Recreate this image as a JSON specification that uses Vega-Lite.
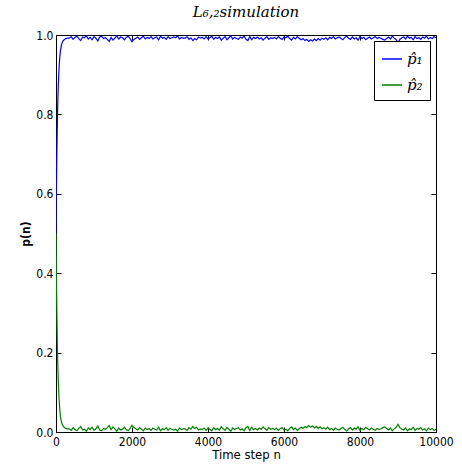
{
  "$schema": "https://vega.github.io/schema/vega-lite/v6.json",
  "autosize": {"type": "none"},
  "padding": {"left": 56, "top": 35, "right": 26, "bottom": 32},
  "width": 380,
  "height": 397,
  "background": "white",
  "title": {"text": "L₆,₂simulation", "font": "DejaVu Serif", "fontStyle": "italic", "fontWeight": "normal", "fontSize": 15, "offset": 9, "color": "black"},
  "config": {
    "view": {"stroke": "black", "strokeWidth": 1},
    "axis": {"grid": false, "labelFlush": false, "domainColor": "black", "tickColor": "black", "labelColor": "black", "titleColor": "black", "labelFont": "DejaVu Sans Condensed", "titleFont": "DejaVu Sans Condensed", "labelFontSize": 12, "titleFontSize": 13}
  },
  "data": {"values": [
    {"n":0,"p1":0.5,"p2":0.5},{"n":10,"p1":0.6,"p2":0.4},{"n":20,"p1":0.68,"p2":0.32},{"n":30,"p1":0.745,"p2":0.255},{"n":40,"p1":0.8,"p2":0.2},{"n":50,"p1":0.84,"p2":0.16},{"n":60,"p1":0.87,"p2":0.13},{"n":70,"p1":0.895,"p2":0.105},{"n":80,"p1":0.915,"p2":0.085},{"n":100,"p1":0.945,"p2":0.055},{"n":120,"p1":0.962,"p2":0.038},{"n":140,"p1":0.973,"p2":0.027},{"n":160,"p1":0.98,"p2":0.02},{"n":180,"p1":0.984,"p2":0.016},{"n":200,"p1":0.987,"p2":0.013},{"n":230,"p1":0.989,"p2":0.011},{"n":260,"p1":0.991,"p2":0.009},{"n":300,"p1":0.992,"p2":0.008},
    {"n":350,"p1":0.992,"p2":0.008},{"n":400,"p1":0.996,"p2":0.004},{"n":450,"p1":0.989,"p2":0.011},{"n":500,"p1":0.994,"p2":0.006},{"n":550,"p1":0.997,"p2":0.003},{"n":600,"p1":0.991,"p2":0.009},{"n":650,"p1":0.986,"p2":0.014},{"n":700,"p1":0.995,"p2":0.005},{"n":750,"p1":0.993,"p2":0.007},{"n":800,"p1":0.998,"p2":0.002},
    {"n":850,"p1":0.99,"p2":0.01},{"n":900,"p1":0.994,"p2":0.006},{"n":950,"p1":0.988,"p2":0.012},{"n":1000,"p1":0.996,"p2":0.004},{"n":1050,"p1":0.992,"p2":0.008},{"n":1100,"p1":0.985,"p2":0.015},{"n":1150,"p1":0.995,"p2":0.005},{"n":1200,"p1":0.997,"p2":0.003},{"n":1250,"p1":0.991,"p2":0.009},{"n":1300,"p1":0.993,"p2":0.007},
    {"n":1350,"p1":0.989,"p2":0.011},{"n":1400,"p1":0.984,"p2":0.016},{"n":1450,"p1":0.994,"p2":0.006},{"n":1500,"p1":0.987,"p2":0.013},{"n":1550,"p1":0.992,"p2":0.008},{"n":1600,"p1":0.998,"p2":0.002},{"n":1650,"p1":0.99,"p2":0.01},{"n":1700,"p1":0.995,"p2":0.005},{"n":1750,"p1":0.993,"p2":0.007},{"n":1800,"p1":0.988,"p2":0.012},
    {"n":1850,"p1":0.994,"p2":0.006},{"n":1900,"p1":0.997,"p2":0.003},{"n":1950,"p1":0.991,"p2":0.009},{"n":2000,"p1":0.983,"p2":0.017},{"n":2050,"p1":0.989,"p2":0.011},{"n":2100,"p1":0.992,"p2":0.008},{"n":2150,"p1":0.995,"p2":0.005},{"n":2200,"p1":0.989,"p2":0.011},{"n":2250,"p1":0.993,"p2":0.007},{"n":2300,"p1":0.997,"p2":0.003},
    {"n":2350,"p1":0.99,"p2":0.01},{"n":2400,"p1":0.994,"p2":0.006},{"n":2450,"p1":0.991,"p2":0.009},{"n":2500,"p1":0.996,"p2":0.004},{"n":2550,"p1":0.99,"p2":0.01},{"n":2600,"p1":0.993,"p2":0.007},{"n":2650,"p1":0.995,"p2":0.005},{"n":2700,"p1":0.988,"p2":0.012},{"n":2750,"p1":0.997,"p2":0.003},{"n":2800,"p1":0.992,"p2":0.008},
    {"n":2850,"p1":0.994,"p2":0.006},{"n":2900,"p1":0.989,"p2":0.011},{"n":2950,"p1":0.996,"p2":0.004},{"n":3000,"p1":0.991,"p2":0.009},{"n":3050,"p1":0.993,"p2":0.007},{"n":3100,"p1":0.995,"p2":0.005},{"n":3150,"p1":0.993,"p2":0.007},{"n":3200,"p1":0.998,"p2":0.002},{"n":3250,"p1":0.99,"p2":0.01},{"n":3300,"p1":0.994,"p2":0.006},
    {"n":3350,"p1":0.992,"p2":0.008},{"n":3400,"p1":0.992,"p2":0.008},{"n":3450,"p1":0.996,"p2":0.004},{"n":3500,"p1":0.989,"p2":0.011},{"n":3550,"p1":0.993,"p2":0.007},{"n":3600,"p1":0.986,"p2":0.014},{"n":3650,"p1":0.991,"p2":0.009},{"n":3700,"p1":0.988,"p2":0.012},{"n":3750,"p1":0.995,"p2":0.005},{"n":3800,"p1":0.992,"p2":0.008},
    {"n":3850,"p1":0.994,"p2":0.006},{"n":3900,"p1":0.99,"p2":0.01},{"n":3950,"p1":0.996,"p2":0.004},{"n":4000,"p1":0.99,"p2":0.01},{"n":4050,"p1":0.993,"p2":0.007},{"n":4100,"p1":0.997,"p2":0.003},{"n":4150,"p1":0.989,"p2":0.011},{"n":4200,"p1":0.994,"p2":0.006},{"n":4250,"p1":0.991,"p2":0.009},{"n":4300,"p1":0.995,"p2":0.005},
    {"n":4350,"p1":0.987,"p2":0.013},{"n":4400,"p1":0.992,"p2":0.008},{"n":4450,"p1":0.996,"p2":0.004},{"n":4500,"p1":0.988,"p2":0.012},{"n":4550,"p1":0.993,"p2":0.007},{"n":4600,"p1":0.998,"p2":0.002},{"n":4650,"p1":0.99,"p2":0.01},{"n":4700,"p1":0.994,"p2":0.006},{"n":4750,"p1":0.991,"p2":0.009},{"n":4800,"p1":0.989,"p2":0.011},
    {"n":4850,"p1":0.995,"p2":0.005},{"n":4900,"p1":0.992,"p2":0.008},{"n":4950,"p1":0.997,"p2":0.003},{"n":5000,"p1":0.989,"p2":0.011},{"n":5050,"p1":0.986,"p2":0.014},{"n":5100,"p1":0.996,"p2":0.004},{"n":5150,"p1":0.988,"p2":0.012},{"n":5200,"p1":0.994,"p2":0.006},{"n":5250,"p1":0.991,"p2":0.009},{"n":5300,"p1":0.995,"p2":0.005},
    {"n":5350,"p1":0.99,"p2":0.01},{"n":5400,"p1":0.993,"p2":0.007},{"n":5450,"p1":0.987,"p2":0.013},{"n":5500,"p1":0.992,"p2":0.008},{"n":5550,"p1":0.996,"p2":0.004},{"n":5600,"p1":0.989,"p2":0.011},{"n":5650,"p1":0.993,"p2":0.007},{"n":5700,"p1":0.991,"p2":0.009},{"n":5750,"p1":0.994,"p2":0.006},{"n":5800,"p1":0.99,"p2":0.01},
    {"n":5850,"p1":0.996,"p2":0.004},{"n":5900,"p1":0.992,"p2":0.008},{"n":5950,"p1":0.989,"p2":0.011},{"n":6000,"p1":0.995,"p2":0.005},{"n":6050,"p1":0.993,"p2":0.007},{"n":6100,"p1":0.997,"p2":0.003},{"n":6150,"p1":0.991,"p2":0.009},{"n":6200,"p1":0.987,"p2":0.013},{"n":6250,"p1":0.994,"p2":0.006},{"n":6300,"p1":0.99,"p2":0.01},
    {"n":6350,"p1":0.996,"p2":0.004},{"n":6400,"p1":0.992,"p2":0.008},{"n":6450,"p1":0.988,"p2":0.012},{"n":6500,"p1":0.991,"p2":0.009},{"n":6550,"p1":0.986,"p2":0.014},{"n":6600,"p1":0.989,"p2":0.011},{"n":6650,"p1":0.984,"p2":0.016},{"n":6700,"p1":0.988,"p2":0.012},{"n":6750,"p1":0.985,"p2":0.015},{"n":6800,"p1":0.99,"p2":0.01},
    {"n":6850,"p1":0.986,"p2":0.014},{"n":6900,"p1":0.991,"p2":0.009},{"n":6950,"p1":0.987,"p2":0.013},{"n":7000,"p1":0.992,"p2":0.008},{"n":7050,"p1":0.989,"p2":0.011},{"n":7100,"p1":0.993,"p2":0.007},{"n":7150,"p1":0.988,"p2":0.012},{"n":7200,"p1":0.994,"p2":0.006},{"n":7250,"p1":0.991,"p2":0.009},{"n":7300,"p1":0.996,"p2":0.004},
    {"n":7350,"p1":0.99,"p2":0.01},{"n":7400,"p1":0.993,"p2":0.007},{"n":7450,"p1":0.995,"p2":0.005},{"n":7500,"p1":0.991,"p2":0.009},{"n":7550,"p1":0.988,"p2":0.012},{"n":7600,"p1":0.994,"p2":0.006},{"n":7650,"p1":0.997,"p2":0.003},{"n":7700,"p1":0.992,"p2":0.008},{"n":7750,"p1":0.989,"p2":0.011},{"n":7800,"p1":0.995,"p2":0.005},
    {"n":7850,"p1":0.99,"p2":0.01},{"n":7900,"p1":0.993,"p2":0.007},{"n":7950,"p1":0.987,"p2":0.013},{"n":8000,"p1":0.996,"p2":0.004},{"n":8050,"p1":0.991,"p2":0.009},{"n":8100,"p1":0.994,"p2":0.006},{"n":8150,"p1":0.988,"p2":0.012},{"n":8200,"p1":0.992,"p2":0.008},{"n":8250,"p1":0.995,"p2":0.005},{"n":8300,"p1":0.99,"p2":0.01},
    {"n":8350,"p1":0.993,"p2":0.007},{"n":8400,"p1":0.996,"p2":0.004},{"n":8450,"p1":0.991,"p2":0.009},{"n":8500,"p1":0.994,"p2":0.006},{"n":8550,"p1":0.992,"p2":0.008},{"n":8600,"p1":0.989,"p2":0.011},{"n":8650,"p1":0.987,"p2":0.013},{"n":8700,"p1":0.991,"p2":0.009},{"n":8750,"p1":0.995,"p2":0.005},{"n":8800,"p1":0.99,"p2":0.01},
    {"n":8850,"p1":0.997,"p2":0.003},{"n":8900,"p1":0.992,"p2":0.008},{"n":8950,"p1":0.988,"p2":0.012},{"n":9000,"p1":0.981,"p2":0.019},{"n":9050,"p1":0.989,"p2":0.011},{"n":9100,"p1":0.993,"p2":0.007},{"n":9150,"p1":0.995,"p2":0.005},{"n":9200,"p1":0.99,"p2":0.01},{"n":9250,"p1":0.997,"p2":0.003},{"n":9300,"p1":0.992,"p2":0.008},
    {"n":9350,"p1":0.994,"p2":0.006},{"n":9400,"p1":0.988,"p2":0.012},{"n":9450,"p1":0.996,"p2":0.004},{"n":9500,"p1":0.991,"p2":0.009},{"n":9550,"p1":0.993,"p2":0.007},{"n":9600,"p1":0.989,"p2":0.011},{"n":9650,"p1":0.995,"p2":0.005},{"n":9700,"p1":0.992,"p2":0.008},{"n":9750,"p1":0.997,"p2":0.003},{"n":9800,"p1":0.99,"p2":0.01},
    {"n":9850,"p1":0.994,"p2":0.006},{"n":9900,"p1":0.991,"p2":0.009},{"n":9950,"p1":0.996,"p2":0.004},{"n":10000,"p1":0.993,"p2":0.007}
  ]},
  "transform": [{"fold": ["p1", "p2"], "as": ["series", "value"]}],
  "layer": [
    {
      "mark": {"type": "line", "strokeWidth": 1.2, "clip": true},
      "encoding": {
        "x": {"field": "n", "type": "quantitative", "scale": {"domain": [0, 10000], "nice": false, "zero": false}, "axis": {"title": "Time step n", "titleFontWeight": "normal", "values": [0, 2000, 4000, 6000, 8000, 10000], "format": "d", "tickSize": -5, "labelPadding": 9, "titlePadding": 1, "domain": false}},
        "y": {"field": "value", "type": "quantitative", "scale": {"domain": [0, 1], "nice": false}, "axis": {"title": "p(n)", "titleFontWeight": "bold", "titleFontSize": 12, "values": [0, 0.2, 0.4, 0.6, 0.8, 1.0], "format": ".1f", "tickSize": -5, "labelPadding": 8, "titlePadding": 3, "domain": false}},
        "color": {"field": "series", "type": "nominal", "scale": {"domain": ["p1", "p2"], "range": ["#0000ff", "#008000"]}, "legend": {"title": null, "orient": "top-right", "offset": 6, "labelExpr": "datum.label == 'p1' ? 'p̂₁' : 'p̂₂'", "labelFont": "DejaVu Serif", "labelFontStyle": "italic", "labelFontSize": 15, "labelColor": "black", "symbolType": "stroke", "symbolSize": 400, "symbolStrokeWidth": 1.5, "rowPadding": 7, "padding": 7, "strokeColor": "black", "fillColor": "white", "cornerRadius": 0}}
      }
    },
    {
      "mark": {"type": "line", "opacity": 0},
      "encoding": {
        "x": {"field": "n", "type": "quantitative", "scale": {"domain": [0, 10000], "nice": false, "zero": false}, "axis": {"orient": "top", "title": null, "labels": false, "values": [0, 2000, 4000, 6000, 8000, 10000], "tickSize": -5, "domain": false}},
        "y": {"field": "value", "type": "quantitative", "scale": {"domain": [0, 1], "nice": false}, "axis": {"orient": "right", "title": null, "labels": false, "values": [0, 0.2, 0.4, 0.6, 0.8, 1.0], "tickSize": -5, "domain": false}},
        "detail": {"field": "series"}
      }
    }
  ],
  "resolve": {"axis": {"x": "independent", "y": "independent"}}
}
